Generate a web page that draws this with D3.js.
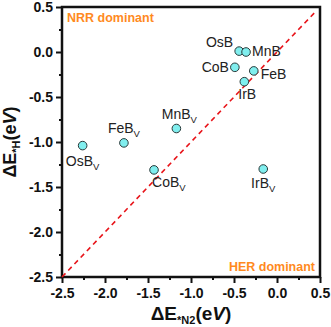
<!DOCTYPE html>
<meta charset="utf-8">
<style>
body { margin: 0; background: #fff; }
.axis text { font-family: "Liberation Sans", Arial, sans-serif; font-weight: bold; font-size: 14px; fill: #111; }
.axis path, .axis line { stroke: #111; stroke-width: 2px; }
.lbl { font-family: "Liberation Sans", Arial, sans-serif; font-size: 14px; fill: #222; }
</style>
<svg id="chart" width="331" height="327"></svg>
<script src="https://d3js.org/d3.v7.min.js"></script>
<script>

var names = ["OsB", "MnB", "CoB", "FeB", "IrB", "MnB", "FeB", "OsB", "CoB", "IrB"];
var vacancy = [false, false, false, false, false, true, true, true, true, true];
var dEN2 = [-0.44, -0.36, -0.49, -0.27, -0.38, -1.17, -1.78, -2.26, -1.43, -0.16];
var dEH = [0.01, 0.0, -0.17, -0.21, -0.33, -0.85, -1.01, -1.04, -1.31, -1.30];
// label offsets from the marker (dx, dy, anchor)
var labelDx = [-6, 6, -6, 7, -6, 3, 0, 0, -2, 0];
var labelDy = [-4, 4, 5, 8, 17, -10, -10, 20, 17, 19];
var labelAnchor = ["end", "start", "end", "start", "start", "middle", "middle", "middle", "start", "middle"];
var ticks = [-2.5, -2.0, -1.5, -1.0, -0.5, 0.0, 0.5];
var minorTicks = [-2.25, -1.75, -1.25, -0.75, -0.25, 0.25];

var svg = d3.select("#chart");
var mLeft = 62, mRight = 320, mTop = 7, mBottom = 277;

var x = d3.scaleLinear().domain([-2.5, 0.5]).range([mLeft, mRight]);
var y = d3.scaleLinear().domain([-2.5, 0.5]).range([mBottom, mTop]);
var fmt = function(d) { return d3.format(".1f")(d).replace("\u2212", "-"); };

// minor ticks
svg.append("g").attr("class", "axis")
  .attr("transform", "translate(0," + mBottom + ")")
  .call(d3.axisBottom(x).tickValues(minorTicks).tickSize(3).tickFormat(""))
  .select(".domain").remove();
svg.append("g").attr("class", "axis")
  .attr("transform", "translate(" + mLeft + ",0)")
  .call(d3.axisLeft(y).tickValues(minorTicks).tickSize(3).tickFormat(""))
  .select(".domain").remove();

// major ticks
svg.append("g").attr("class", "axis")
  .attr("transform", "translate(0," + mBottom + ")")
  .call(d3.axisBottom(x).tickValues(ticks).tickSize(6).tickPadding(5).tickFormat(fmt))
  .select(".domain").remove();
svg.append("g").attr("class", "axis")
  .attr("transform", "translate(" + mLeft + ",0)")
  .call(d3.axisLeft(y).tickValues(ticks).tickSize(6).tickPadding(3).tickFormat(fmt))
  .select(".domain").remove();

// frame
svg.append("rect")
  .attr("x", mLeft).attr("y", mTop)
  .attr("width", mRight - mLeft).attr("height", mBottom - mTop)
  .attr("fill", "none").attr("stroke", "#111").attr("stroke-width", 2.5);

// diagonal
svg.append("line")
  .attr("x1", x(-2.5)).attr("y1", y(-2.5))
  .attr("x2", x(0.46)).attr("y2", y(0.46))
  .attr("stroke", "#e8141a").attr("stroke-width", 1.6)
  .attr("stroke-dasharray", "5,4");

// region notes
svg.append("text").attr("x", mLeft + 5).attr("y", mTop + 15)
  .attr("font-family", "Liberation Sans, Arial, sans-serif").attr("font-weight", "bold")
  .attr("font-size", "12.5px").attr("fill", "#ff8a1e").text("NRR dominant");
svg.append("text").attr("x", mRight - 5).attr("y", mBottom - 6)
  .attr("text-anchor", "end")
  .attr("font-family", "Liberation Sans, Arial, sans-serif").attr("font-weight", "bold")
  .attr("font-size", "12.5px").attr("fill", "#ff8a1e").text("HER dominant");

// points
svg.selectAll("circle.pt")
  .data(names)
  .enter().append("circle")
  .attr("class", "pt")
  .attr("cx", function(d, i) { return x(dEN2[i]); })
  .attr("cy", function(d, i) { return y(dEH[i]); })
  .attr("r", 4.3)
  .attr("fill", "#80eeee")
  .attr("stroke", "#2a3a3a").attr("stroke-width", 1);

var lbl = svg.selectAll("text.lbl")
  .data(names)
  .enter().append("text")
  .attr("class", "lbl")
  .attr("x", function(d, i) { return x(dEN2[i]) + labelDx[i]; })
  .attr("y", function(d, i) { return y(dEH[i]) + labelDy[i]; })
  .attr("text-anchor", function(d, i) { return labelAnchor[i]; });
lbl.append("tspan").text(function(d) { return d; });
lbl.filter(function(d, i) { return vacancy[i]; })
  .append("tspan").attr("dy", 4).attr("font-size", "9.5px").text("V");

// axis titles
var tf = "Liberation Sans, Arial, sans-serif";
var xt = svg.append("text").attr("x", (mLeft + mRight) / 2).attr("y", 320)
  .attr("text-anchor", "middle").attr("font-family", tf).attr("font-weight", "bold")
  .attr("font-size", "19px").attr("fill", "#111");
xt.append("tspan").text("\u0394E");
xt.append("tspan").attr("dy", 4).attr("font-size", "11px").text("*N2");
xt.append("tspan").attr("dy", -4).text("(e");
xt.append("tspan").attr("font-style", "italic").text("V");
xt.append("tspan").text(")");

var yt = svg.append("text")
  .attr("transform", "translate(16," + (mTop + mBottom) / 2 + ") rotate(-90)")
  .attr("text-anchor", "middle").attr("font-family", tf).attr("font-weight", "bold")
  .attr("font-size", "18px").attr("fill", "#111");
yt.append("tspan").text("\u0394E");
yt.append("tspan").attr("dy", 4).attr("font-size", "11px").text("*H");
yt.append("tspan").attr("dy", -4).text("(e");
yt.append("tspan").attr("font-style", "italic").text("V");
yt.append("tspan").text(")");

</script>
